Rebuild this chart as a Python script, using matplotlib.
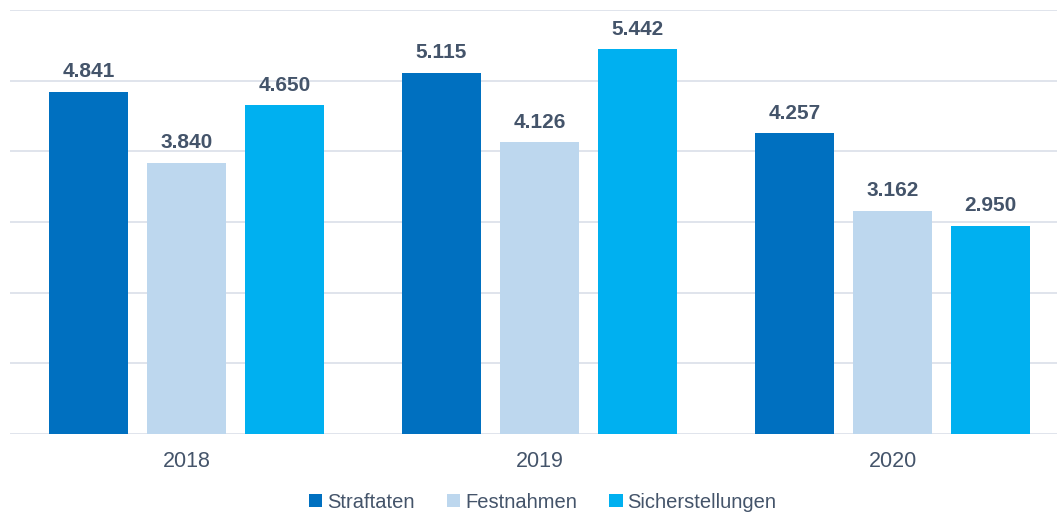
import matplotlib.pyplot as plt
import numpy as np

plt.rcParams["font.family"] = ["Liberation Sans", "DejaVu Sans"]

years = ["2018", "2019", "2020"]
straftaten = [4841, 5115, 4257]
festnahmen = [3840, 4126, 3162]
sicherstellungen = [4650, 5442, 2950]

series = [
    ("Straftaten", straftaten, "#0070C0"),
    ("Festnahmen", festnahmen, "#BDD7EE"),
    ("Sicherstellungen", sicherstellungen, "#00B0F0"),
]

text_col = "#44546A"

fig = plt.figure(figsize=(10.57, 5.15), dpi=100)
ax = fig.add_axes([10 / 1057, 1 - 434 / 515, 1047 / 1057, 424 / 515])

x = np.arange(len(years))
width = 0.224
step = 0.278
for i, (name, vals, col) in enumerate(series):
    pos = x + (i - 1) * step
    bars = ax.bar(pos, vals, width, color=col, label=name, zorder=2)
    for b, v in zip(bars, vals):
        lbl = f"{v / 1000:.3f}"
        ax.text(b.get_x() + b.get_width() / 2, v + 150, lbl, ha="center", va="bottom",
                fontsize=15, fontweight="bold", color=text_col)

ax.set_ylim(0, 6000)
ax.set_xlim(-0.5, 2.466)
ax.set_yticks(range(0, 6001, 1000))
ax.yaxis.grid(True, color="#DDE2EA", linewidth=1.3, zorder=0)
ax.tick_params(axis="y", left=False, labelleft=False)
ax.tick_params(axis="x", length=0, labelsize=15.5, labelcolor=text_col, pad=12)
ax.set_xticks(x)
ax.set_xticklabels(years)
for s in ["top", "right", "left", "bottom"]:
    ax.spines[s].set_visible(False)

fig.legend(loc="center", bbox_to_anchor=(543 / 1057, 1 - 502 / 515), ncol=3, frameon=False,
           fontsize=14.5, labelcolor=text_col, handlelength=0.65, handleheight=0.65,
           handletextpad=0.25, columnspacing=1.6)

fig.savefig("out.png", dpi=100)
